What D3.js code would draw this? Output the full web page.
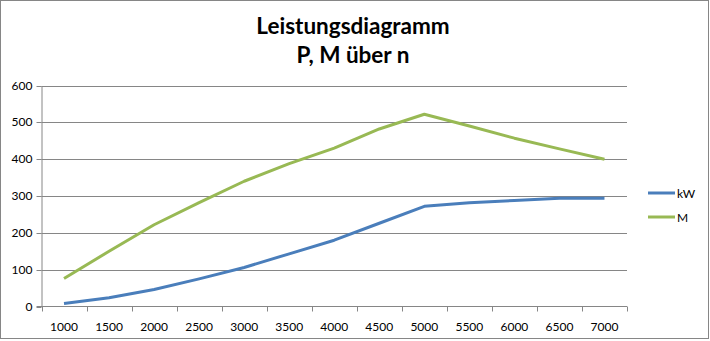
<!DOCTYPE html>
<html>
<head>
<meta charset="utf-8">
<script src="https://cdn.jsdelivr.net/npm/d3@7"></script>
<style>
  html, body { margin: 0; padding: 0; background: #fff; }
  svg { display: block; font-family: Lato, "Open Sans", sans-serif; }
</style>
</head>
<body>
<svg id="chart" width="710" height="341"></svg>
<script>
// Drehzahl n [1/min]
const categories = ["1000","1500","2000","2500","3000","3500","4000","4500","5000","5500","6000","6500","7000"];
// Leistung P [kW]
const kW = [8, 24, 46, 75, 106, 143, 180, 226, 272, 282, 288, 294, 294];
// Drehmoment M [Nm]
const M = [76, 150, 222, 282, 340, 388, 430, 482, 522, 490, 457, 428, 400];
const yTicks = [0, 100, 200, 300, 400, 500, 600];
const seriesNames = ["kW", "M"];
const seriesColors = ["#4a7ebb", "#98b954"];

const svg = d3.select("#chart");
const plotLeft = 41.5, plotRight = 627, plotTop = 85.5, plotBottom = 306.5;
const gridColor = "#868686";

// outer frame
svg.append("rect").attr("x", 0.5).attr("y", 0.5).attr("width", 708).attr("height", 338)
  .attr("fill", "#fff").attr("stroke", gridColor).attr("stroke-width", 1);

// title
const title = svg.append("text").attr("text-anchor", "middle").attr("font-weight", "bold")
  .attr("font-size", 22.5).attr("fill", "#000");
title.append("tspan").attr("x", 353).attr("y", 34).text("Leistungsdiagramm");
title.append("tspan").attr("x", 353).attr("y", 63).text("P, M über n");

const x = d3.scaleBand().domain(categories).range([plotLeft, plotRight]);
const y = d3.scaleLinear().domain([0, 600]).range([plotBottom, plotTop]);

// horizontal gridlines
svg.append("g").selectAll("line").data(yTicks.filter(d => d > 0)).join("line")
  .attr("x1", plotLeft).attr("x2", plotRight)
  .attr("y1", d => Math.round(y(d)) + 0.5).attr("y2", d => Math.round(y(d)) + 0.5)
  .attr("stroke", gridColor).attr("stroke-width", 1);

// y axis
const yAxis = svg.append("g").attr("transform", `translate(${plotLeft},0)`)
  .call(d3.axisLeft(y).tickValues(yTicks).tickSize(5).tickPadding(4).tickSizeOuter(0));
yAxis.select(".domain").attr("stroke", gridColor);
yAxis.selectAll(".tick line").attr("stroke", gridColor);
yAxis.selectAll(".tick").attr("transform", d => `translate(0,${Math.round(y(d)) + 0.5})`);
yAxis.selectAll("text").attr("font-size", 12).attr("fill", "#000")
  .attr("font-family", "Lato, 'Open Sans', sans-serif");

// x axis line and ticks at category boundaries
const xAxisG = svg.append("g");
xAxisG.append("line").attr("x1", plotLeft - 5).attr("x2", plotRight)
  .attr("y1", plotBottom).attr("y2", plotBottom).attr("stroke", gridColor);
const bounds = categories.map(c => x(c)).concat([plotRight]);
xAxisG.selectAll("line.tk").data(bounds).join("line").attr("class", "tk")
  .attr("x1", d => Math.round(d) + 0.5).attr("x2", d => Math.round(d) + 0.5)
  .attr("y1", plotBottom).attr("y2", plotBottom + 5).attr("stroke", gridColor);
xAxisG.selectAll("text").data(categories).join("text")
  .attr("x", d => x(d) + x.bandwidth() / 2).attr("y", plotBottom + 24)
  .attr("text-anchor", "middle").attr("font-size", 12).attr("fill", "#000").text(d => d);

// series lines
const line = d3.line().x((d, i) => x(categories[i]) + x.bandwidth() / 2).y(d => y(d));
[kW, M].forEach((vals, k) => {
  svg.append("path").datum(vals).attr("d", line).attr("fill", "none")
    .attr("stroke", seriesColors[k]).attr("stroke-width", 3).attr("stroke-linejoin", "round");
});

// legend
const legend = svg.append("g");
seriesNames.forEach((name, k) => {
  const ly = 193 + k * 24;
  legend.append("line").attr("x1", 648).attr("x2", 675).attr("y1", ly).attr("y2", ly)
    .attr("stroke", seriesColors[k]).attr("stroke-width", 3);
  legend.append("text").attr("x", 677).attr("y", ly + 4.5).attr("font-size", 12)
    .attr("fill", "#000").text(name);
});
</script>
</body>
</html>
